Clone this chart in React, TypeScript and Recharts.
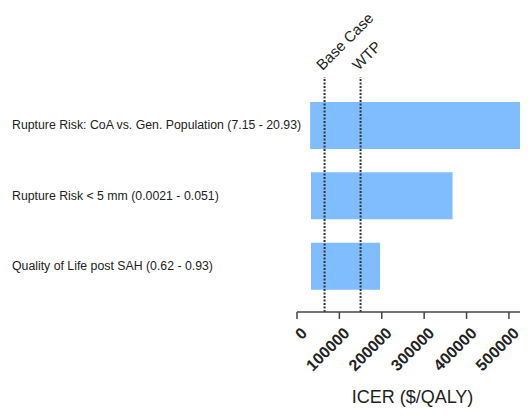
import { BarChart, Bar, XAxis, YAxis, ReferenceLine } from "recharts";

const params = [
  "Rupture Risk: CoA vs. Gen. Population (7.15 - 20.93)",
  "Rupture Risk < 5 mm (0.0021 - 0.051)",
  "Quality of Life post SAH (0.62 - 0.93)",
];
const lowIcer = [31000, 33000, 33000];
const highIcer = [600000, 367000, 196000];
const xTicks = [0, 100000, 200000, 300000, 400000, 500000];
const baseCase = 65000;
const wtp = 150000;

const FONT = "'Liberation Sans', Arial, sans-serif";

const data = params.map((name, i) => ({ name, range: [lowIcer[i], highIcer[i]] }));

function YTick(props: any) {
  const { y, payload } = props;
  return (
    <text x={4} y={y} dy="0.35em" fontSize={12.3} fill="#222" fontFamily={FONT} textAnchor="start">
      {payload.value}
    </text>
  );
}

function XTick(props: any) {
  const { x, y, payload } = props;
  const ax = x + 3;
  const ay = y + 5;
  return (
    <text
      x={ax}
      y={ay}
      dy="0.72em"
      transform={`rotate(-45 ${ax} ${ay})`}
      textAnchor="end"
      fontSize={16}
      fontWeight="bold"
      fill="#222"
      fontFamily={FONT}
    >
      {payload.value}
    </text>
  );
}

function RefLabel(props: any) {
  const { viewBox, text } = props;
  const x = viewBox.x - 2;
  const y = viewBox.y - 6;
  return (
    <text
      x={x}
      y={y}
      transform={`rotate(-45 ${x} ${y})`}
      textAnchor="start"
      fontSize={15}
      fill="#222"
      fontFamily={FONT}
    >
      {text}
    </text>
  );
}

export default function App() {
  return (
    <div style={{ width: 520, height: 400, overflow: "hidden" }}>
      <BarChart
        width={520}
        height={400}
        data={data}
        layout="vertical"
        margin={{ top: 69, right: 0, bottom: 0, left: 0 }}
      >
        <XAxis
          type="number"
          domain={[0, 545000]}
          ticks={xTicks}
          interval={0}
          allowDataOverflow
          height={96}
          stroke="#444"
          strokeWidth={1.5}
          tickSize={7}
          tick={(p: any) => <XTick {...p} />}
          label={{ value: "ICER ($/QALY)", position: "insideBottom", offset: 5, fontSize: 18, fill: "#222", fontFamily: FONT }}
        />
        <YAxis
          type="category"
          dataKey="name"
          width={289}
          axisLine={false}
          tickLine={false}
          padding={{ top: 13, bottom: 11 }}
          tick={(p: any) => <YTick {...p} />}
        />
        <Bar dataKey="range" fill="#80bdff" barSize={47} isAnimationActive={false} />
        <ReferenceLine
          x={baseCase}
          stroke="#333"
          strokeWidth={2}
          strokeDasharray="2 1.5"
          label={(p: any) => <RefLabel {...p} text="Base Case" />}
        />
        <ReferenceLine
          x={wtp}
          stroke="#333"
          strokeWidth={2}
          strokeDasharray="2 1.5"
          label={(p: any) => <RefLabel {...p} text="WTP" />}
        />
      </BarChart>
    </div>
  );
}
